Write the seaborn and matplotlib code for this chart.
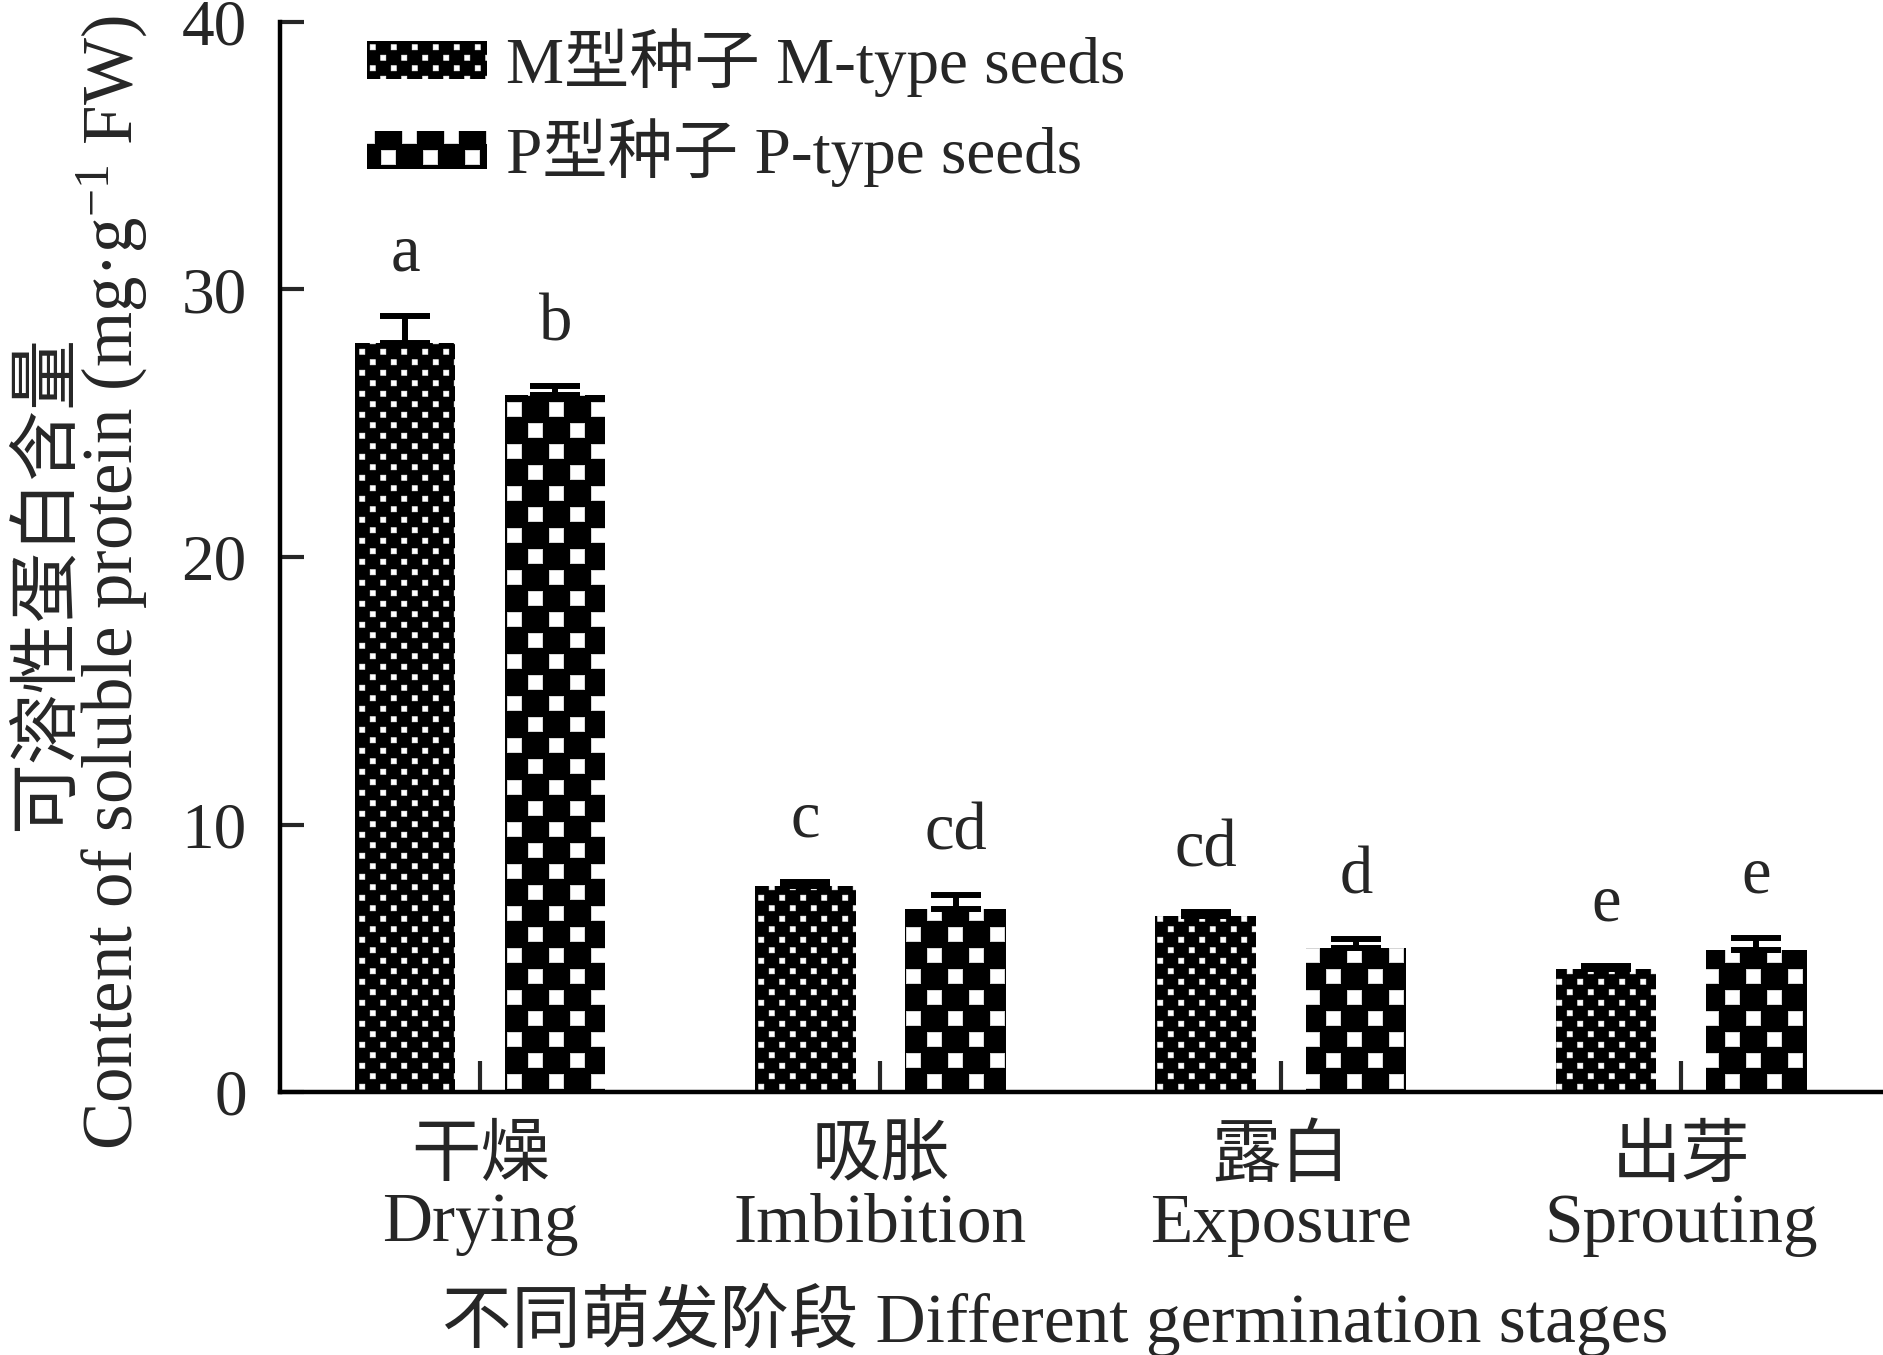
import numpy as np
import pandas as pd
import matplotlib
matplotlib.use("Agg")
import matplotlib.pyplot as plt
import matplotlib.hatch as mhatch
from matplotlib.path import Path
from matplotlib.patches import Patch, Rectangle
import seaborn as sns

# Dados
stages_cn = ["干燥", "吸胀", "露白", "出芽"]
stages_en = ["Drying", "Imbibition", "Exposure", "Sprouting"]
types = ["M型种子 M-type seeds", "P型种子 P-type seeds"]
m_vals = [28.0, 7.7, 6.6, 4.6]
m_err = [1.0, 0.15, 0.12, 0.12]
p_vals = [26.05, 6.85, 5.4, 5.3]
p_err = [0.35, 0.5, 0.32, 0.45]
m_letters = ["a", "c", "cd", "e"]
p_letters = ["b", "cd", "d", "e"]
yticks = [0, 10, 20, 30, 40]

DPI = 84          # ladrilho da hachura = DPI pixels
K = 100 / DPI     # tamanhos abaixo pensados para dpi 100


# hachura de quadrados cheios em linhas alternadas (substitui as estrelas '*')
class SquareHatch(mhatch.HatchPatternBase):
    def __init__(self, hatch, density):
        self.n = hatch.count('*')
        self.size = 0.25 if self.n > 3 else 0.34
        self.num_vertices = 2 * self.n * self.n * 5

    def set_vertices_and_codes(self, vertices, codes):
        n = self.n
        d = 1.0 / n
        h = 0.5 * self.size * d
        sq = np.array([[-h, -h], [h, -h], [h, h], [-h, h], [-h, -h]])
        sc = np.array([Path.MOVETO, Path.LINETO, Path.LINETO, Path.LINETO, Path.CLOSEPOLY],
                      dtype=Path.code_type)
        vparts, cparts = [], []
        for r in range(2 * n):
            y = (r + 0.5) * d / 2
            for c in range(n):
                x = (c + 0.25 + 0.5 * (r % 2)) * d
                vparts.append(sq + [x, y])
                cparts.append(sc)
        np.concatenate(vparts, out=vertices)
        np.concatenate(cparts, out=codes)


mhatch._hatch_types = [h for h in mhatch._hatch_types if h is not mhatch.Stars] + [SquareHatch]
hatches = ['****', '**']

sns.set_theme(style="ticks")
plt.rcParams['font.family'] = ['Liberation Serif', 'Noto Sans CJK SC']
plt.rcParams['mathtext.fontset'] = 'custom'
plt.rcParams['mathtext.rm'] = 'Liberation Serif'
plt.rcParams['hatch.linewidth'] = 0.4 * K

df = pd.DataFrame({
    'Stage': stages_en * 2,
    'Type': [types[0]] * 4 + [types[1]] * 4,
    'Content': m_vals + p_vals,
})

fig = plt.figure(figsize=(1884 / DPI, 1355 / DPI), dpi=DPI)
ax = fig.add_axes([0.1486, 0.194, 0.85, 0.79])

sns.barplot(data=df, x='Stage', y='Content', hue='Type', order=stages_en, hue_order=types,
            palette=['black', 'black'], saturation=1, width=0.75, gap=0.33,
            errorbar=None, legend=False, ax=ax)

# barras ordenadas por posição: (M, P) em cada estágio
bars = sorted([p for p in ax.patches if isinstance(p, Rectangle) and p.get_height() > 0],
              key=lambda p: p.get_x())

errs = [m_err, p_err]
letters = [m_letters, p_letters]
for i in range(2):
    xs, ys = [], []
    for bar in bars[i::2]:
        bar.set_hatch(hatches[i])
        bar.set_edgecolor('white')
        bar.set_linewidth(0)
        xs.append(bar.get_x() + bar.get_width() / 2)
        ys.append(bar.get_height())
    ax.errorbar(xs, ys, yerr=[np.zeros(4), errs[i]], fmt='none', ecolor='black',
                elinewidth=4.3 * K, capsize=18 * K, capthick=4.3 * K, zorder=3)
    for x, y, e, t in zip(xs, ys, errs[i], letters[i]):
        ax.text(x, y + e + 1.7, t, ha='center', va='baseline', fontsize=48 * K)

ax.set_xlim(-0.5, 3.5)
ax.set_ylim(0, 40)
ax.set_yticks(yticks)
ax.set_xticks(range(4))
ax.set_xticklabels([f"{c}\n{e}" for c, e in zip(stages_cn, stages_en)],
                   fontsize=50 * K, linespacing=1.05)
ax.tick_params(axis='y', direction='in', length=17 * K, width=3 * K, labelsize=47 * K, pad=24 * K)
ax.tick_params(axis='x', direction='in', length=22 * K, width=3 * K, pad=25 * K)

for s in ['top', 'right']:
    ax.spines[s].set_visible(False)
for s in ['left', 'bottom']:
    ax.spines[s].set_linewidth(3.2 * K)
    ax.spines[s].set_color('black')

ax.set_xlabel("不同萌发阶段 Different germination stages", fontsize=50 * K)
ax.xaxis.set_label_coords(0.484, -0.178)
ax.xaxis.label.set_va('top')
ax.set_ylabel("可溶性蛋白含量\nContent of soluble protein (mg·g$\\mathregular{^{-1}}$ FW)",
              fontsize=51 * K, linespacing=0.9)
ax.yaxis.set_label_coords(-0.0815, 0.476)

handles = [Patch(facecolor='black', edgecolor='white', linewidth=0, hatch=h) for h in hatches]
ax.legend(handles, types, loc='upper left', bbox_to_anchor=(0.05, 1.0), frameon=False,
          fontsize=47 * K, handlelength=1.85, handleheight=0.52, handletextpad=0.28,
          labelspacing=0.33, borderpad=0.1, borderaxespad=0)

plt.savefig('out.png', dpi=DPI)
plt.close()
